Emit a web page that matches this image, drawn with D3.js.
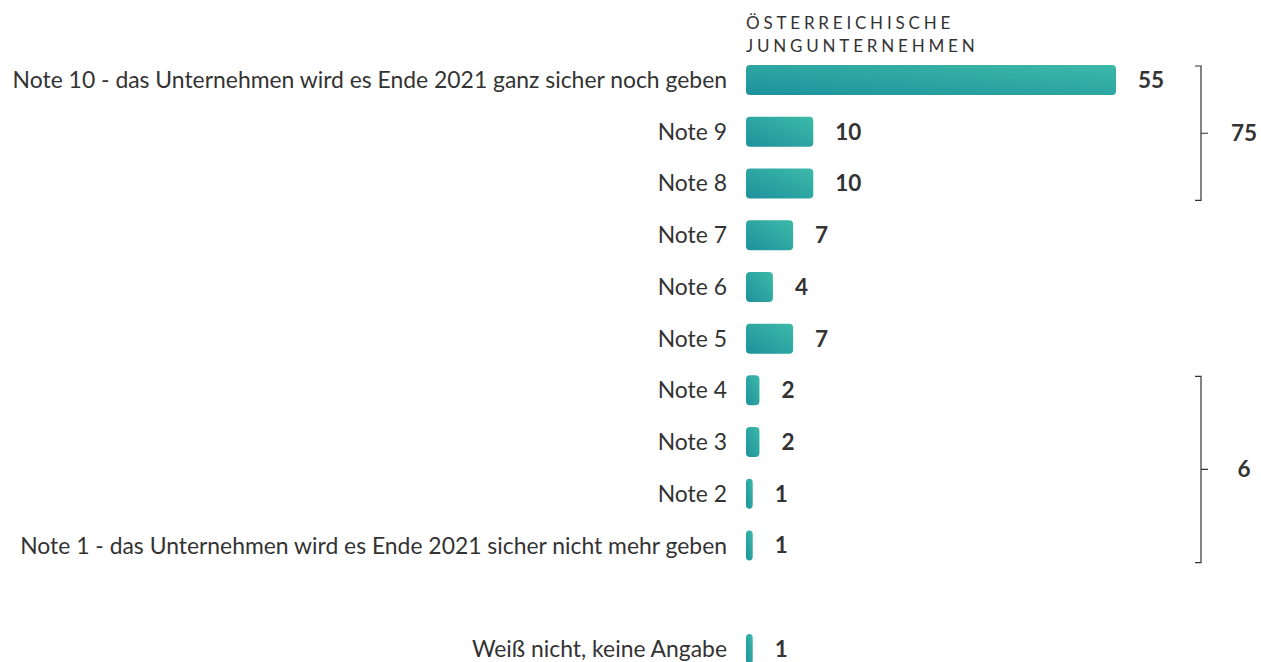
<!DOCTYPE html>
<html>
<head>
<meta charset="utf-8">
<script src="https://cdn.jsdelivr.net/npm/d3@7"></script>
<style>
  body { margin: 0; background: #fff; }
  text { font-family: Lato, "Open Sans", sans-serif; fill: #333; }
</style>
</head>
<body>
<div class="canva"></div>
<script>
const categories = [
    "Note 10 - das Unternehmen wird es Ende 2021 ganz sicher noch geben",
    "Note 9", "Note 8", "Note 7", "Note 6", "Note 5",
    "Note 4", "Note 3", "Note 2",
    "Note 1 - das Unternehmen wird es Ende 2021 sicher nicht mehr geben",
    "",
    "Weiß nicht, keine Angabe"];
const values = [55, 10, 10, 7, 4, 7, 2, 2, 1, 1, null, 1];
const groups = [
    {from: "Note 10 - das Unternehmen wird es Ende 2021 ganz sicher noch geben", to: "Note 8", label: "75"},
    {from: "Note 4", to: "Note 1 - das Unternehmen wird es Ende 2021 sicher nicht mehr geben", label: "6"}];
const header = ["ÖSTERREICHISCHE", "JUNGUNTERNEHMEN"];

const width = 1261, height = 662;

const svg = d3.select(".canva").append("svg")
    .attr("width", width)
    .attr("height", height);

// gradient along each bar (bottom-left dark, top-right light)
const grad = svg.append("defs").append("linearGradient")
    .attr("id", "barGrad")
    .attr("x1", 0).attr("y1", 1).attr("x2", 1).attr("y2", 0);
grad.append("stop").attr("offset", "0%").attr("stop-color", "#1e919c");
grad.append("stop").attr("offset", "100%").attr("stop-color", "#3cbaa8");

const x = d3.scaleLinear().domain([0, 55]).range([746, 1116]);

const y = d3.scaleBand()
    .domain(categories.map((d, i) => i))
    .range([43.3, 685.7])
    .padding(0.42);

const rows = categories.map((c, i) => ({name: c, value: values[i], i: i}))
    .filter(d => d.value != null);

svg.append("text")
    .attr("x", 746)
    .attr("font-size", 17)
    .attr("letter-spacing", 3.8)
    .selectAll("tspan")
    .data(header)
    .enter().append("tspan")
        .attr("x", 746)
        .attr("y", (d, i) => 29 + i * 23)
        .text(d => d);

svg.selectAll("rect.bar")
    .data(rows)
    .enter().append("rect")
    .attr("class", "bar")
    .attr("x", x(0))
    .attr("y", d => y(d.i))
    .attr("width", d => x(d.value) - x(0))
    .attr("height", y.bandwidth())
    .attr("rx", 4)
    .attr("fill", "url(#barGrad)");

svg.selectAll("text.cat")
    .data(rows)
    .enter().append("text")
    .attr("class", "cat")
    .attr("x", 727)
    .attr("y", d => y(d.i) + y.bandwidth() / 2)
    .attr("dy", "0.35em")
    .attr("text-anchor", "end")
    .attr("font-size", 22.9)
    .text(d => d.name);

svg.selectAll("text.val")
    .data(rows)
    .enter().append("text")
    .attr("class", "val")
    .attr("x", d => x(d.value) + 22)
    .attr("y", d => y(d.i) + y.bandwidth() / 2)
    .attr("dy", "0.35em")
    .attr("font-size", 22.5)
    .attr("font-weight", "bold")
    .text(d => d.value);

// brackets for grouped totals
const idx = name => categories.indexOf(name);
const bx = 1201;
groups.forEach(g => {
    const top = y(idx(g.from)) + y.bandwidth() / 2 - 14;
    const bot = y(idx(g.to)) + y.bandwidth() / 2 + 17;
    const mid = (top + bot) / 2;
    svg.append("path")
        .attr("d", `M${bx - 6},${top}H${bx}V${bot}H${bx - 6}M${bx},${mid}H${bx + 7}`)
        .attr("fill", "none")
        .attr("stroke", "#333")
        .attr("stroke-width", 1.2);
    svg.append("text")
        .attr("x", 1244)
        .attr("y", mid)
        .attr("dy", "0.35em")
        .attr("text-anchor", "middle")
        .attr("font-size", 22.5)
        .attr("font-weight", "bold")
        .text(g.label);
});
</script>
</body>
</html>
